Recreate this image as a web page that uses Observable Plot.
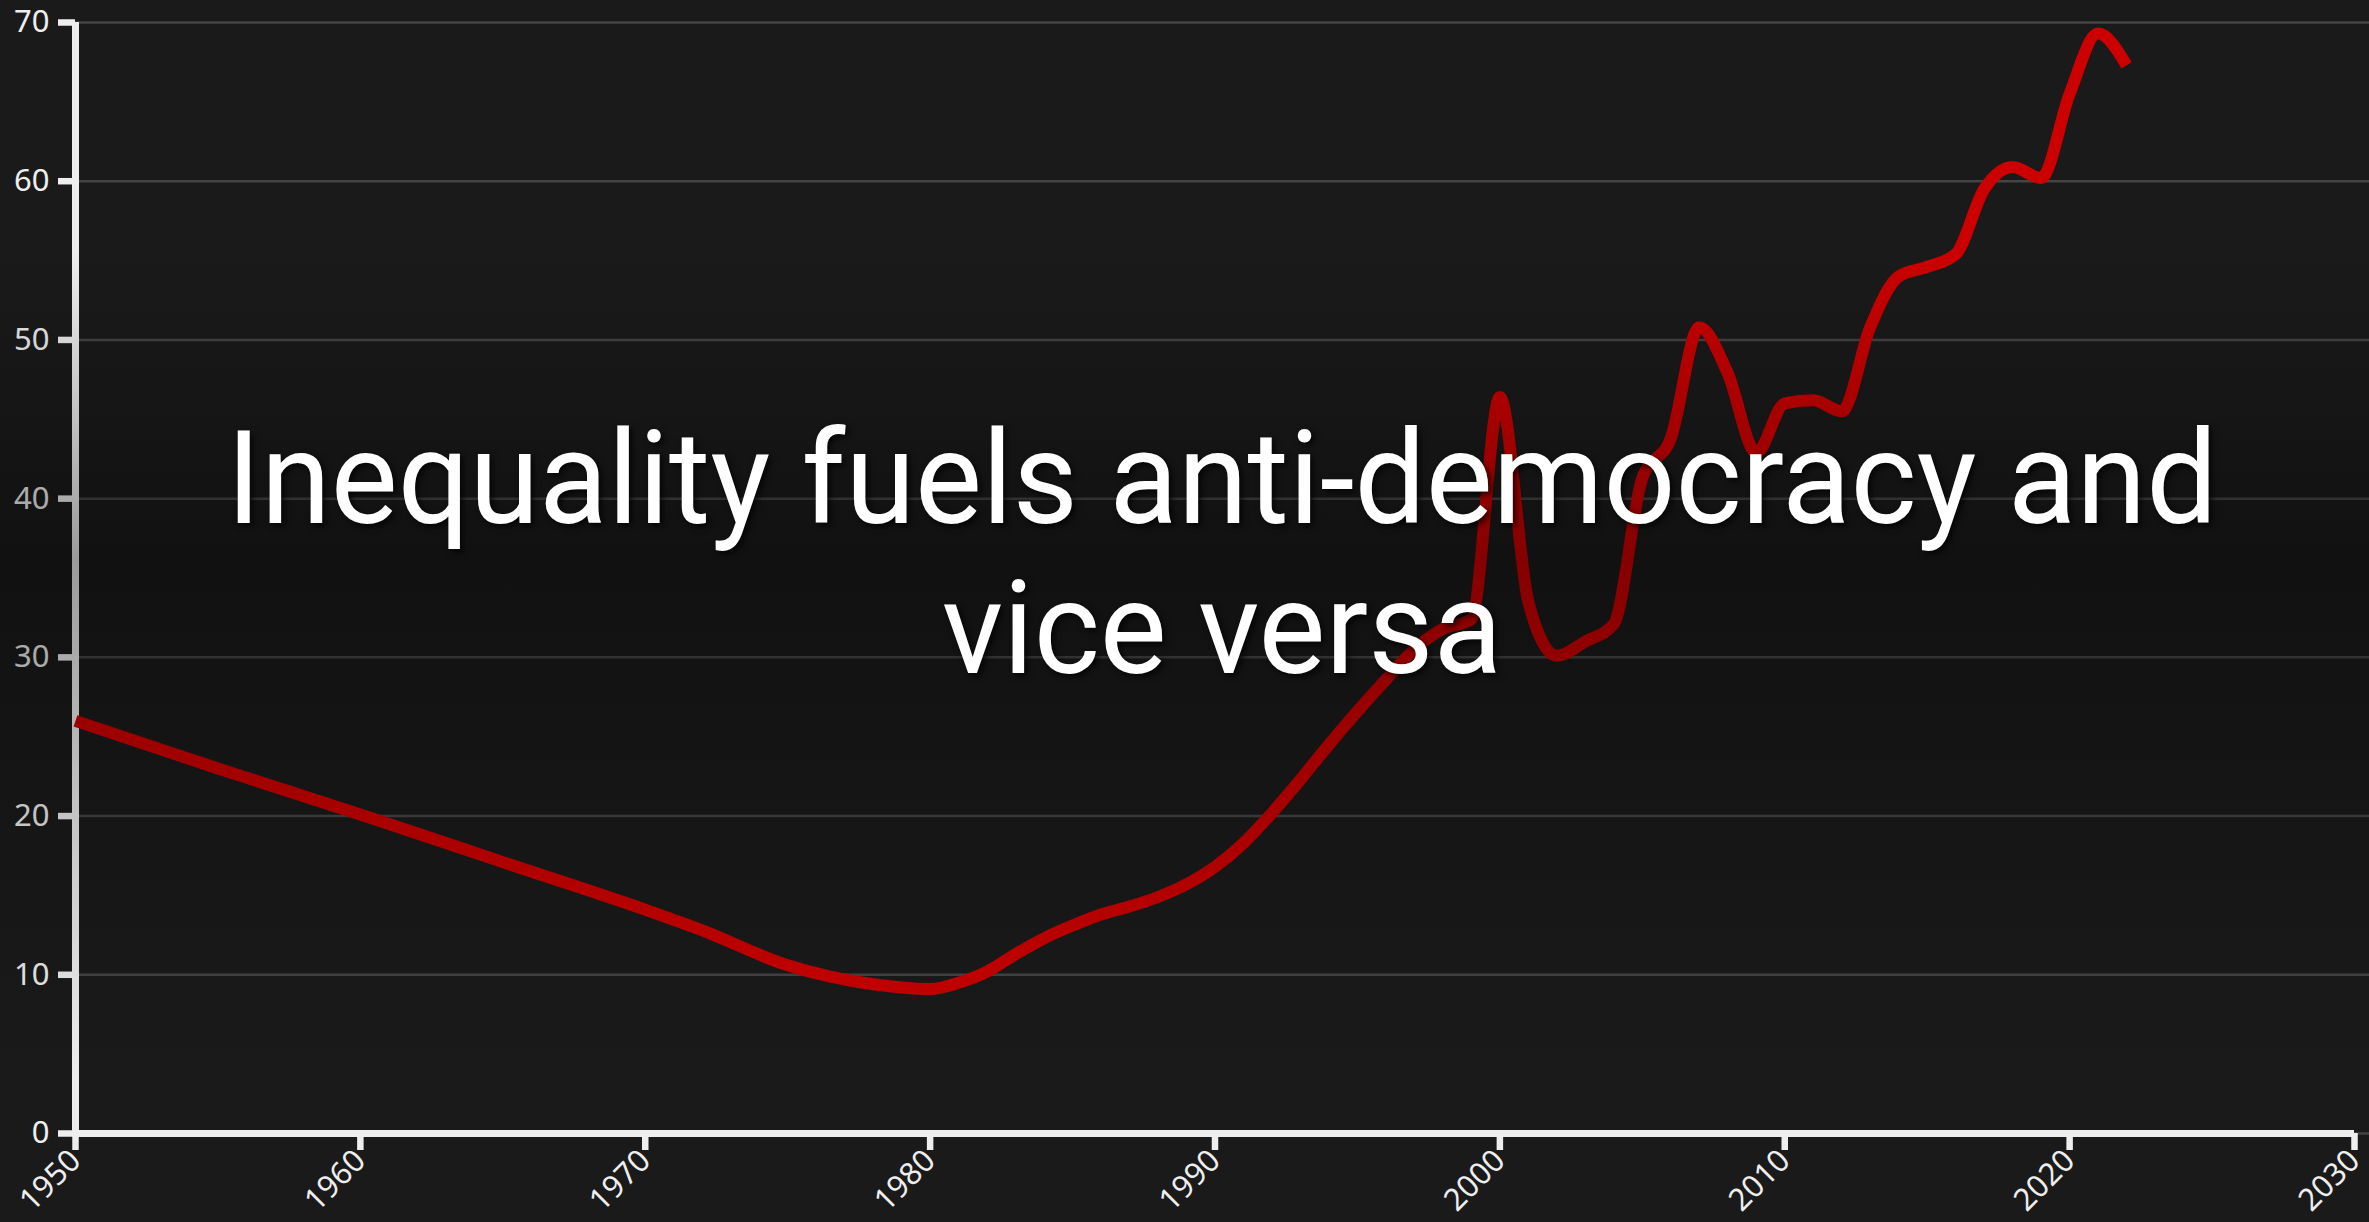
<!DOCTYPE html>
<html><head><meta charset="utf-8">
<script src="https://cdn.jsdelivr.net/npm/d3@7"></script>
<script src="https://cdn.jsdelivr.net/npm/@observablehq/plot@0.6"></script>
<style>
html,body{margin:0;padding:0;background:#1a1a1a;}
#wrap{position:relative;width:2369px;height:1222px;overflow:hidden;}
#shade{position:absolute;left:0;top:0;width:100%;height:100%;pointer-events:none;
background:linear-gradient(to bottom, rgba(0,0,0,0) 250px, rgba(0,0,0,0.35) 560px, rgba(0,0,0,0) 1080px);}
#title{position:absolute;left:0;top:0;pointer-events:none;}
</style></head><body>
<div id="wrap"><div id="chart"></div><div id="shade"></div><svg id="title" width="2369" height="1222"></svg></div>
<script>
const years = [1950,1955,1960,1965,1970,1972,1975,1978,1980,1981,1982,1983,1984,1985,1986,1987,1988,1989,1990,1991,1992,1993,1994,1995,1996,1997,1998,1999,2000,2001,2002,2003,2004,2005,2006,2007,2008,2009,2010,2011,2012,2013,2014,2015,2016,2017,2018,2019,2020,2021,2022];
const values = [26.0,23.0,20.1,17.1,14.1,12.8,10.6,9.4,9.1,9.5,10.2,11.3,12.3,13.1,13.8,14.3,14.9,15.7,16.8,18.3,20.2,22.3,24.5,26.6,28.6,30.5,31.8,32.4,46.4,33.5,30.1,31.0,32.1,41.3,43.8,50.8,47.9,42.9,46.0,46.2,45.5,50.8,54.0,54.6,55.4,59.5,60.9,60.2,65.5,69.3,67.3];
const yTicks = [0,10,20,30,40,50,60,70];
const xTicks = [1950,1960,1970,1980,1990,2000,2010,2020,2030];
const titleLines = ["Inequality fuels anti-democracy and", "vice versa"];

const data = years.map((year, i) => ({year, value: values[i]}));

const chart = Plot.plot({
  width: 2369, height: 1222,
  marginLeft: 75, marginRight: 15, marginTop: 22, marginBottom: 89,
  style: {background: "#1a1a1a", color: "#eee", fontFamily: "'Noto Sans', sans-serif", fontSize: "31px"},
  x: {domain: [1950, 2030]},
  y: {domain: [0, 70]},
  marks: [
    Plot.gridY(yTicks, {stroke: "#444", strokeOpacity: 1, strokeWidth: 2.5, insetRight: -15}),
    Plot.axisY(yTicks, {tickSize: 17, tickPadding: 9, stroke: "#eee", strokeWidth: 6.5, fill: "#eee", fontSize: 31, label: null}),
    Plot.axisX(xTicks, {tickSize: 17, tickPadding: 5, tickRotate: -45, stroke: "#eee", strokeWidth: 6.5, fill: "#eee", fontSize: 31, label: null, tickFormat: d => String(d)}),
    Plot.ruleY([0], {stroke: "#eee", strokeWidth: 7}),
    Plot.ruleX([1950], {stroke: "#eee", strokeWidth: 7}),
    Plot.line(data, {x: "year", y: "value", stroke: "#cc0000", strokeWidth: 12, curve: "monotone-x", strokeLinecap: "butt"})
  ]
});
document.getElementById("chart").appendChild(chart);

const svgT = d3.select("#title");
const g = svgT.append("g").attr("transform", "translate(1222,0)");
const texts = g.selectAll("text").data(titleLines).join("text")
  .attr("x", 0).attr("y", (d, i) => 523 + i * 150)
  .attr("text-anchor", "middle").attr("fill", "#fff")
  .attr("font-family", "Roboto, 'Noto Sans', sans-serif").attr("font-size", 129)
  .style("filter", "drop-shadow(3px 3px 3px rgba(0,0,0,0.75))")
  .text(d => d);
const len = texts.node().getComputedTextLength();
const s = 1991 / len;
g.attr("transform", `translate(1222,0) scale(${s},1)`);
</script>
</body></html>
